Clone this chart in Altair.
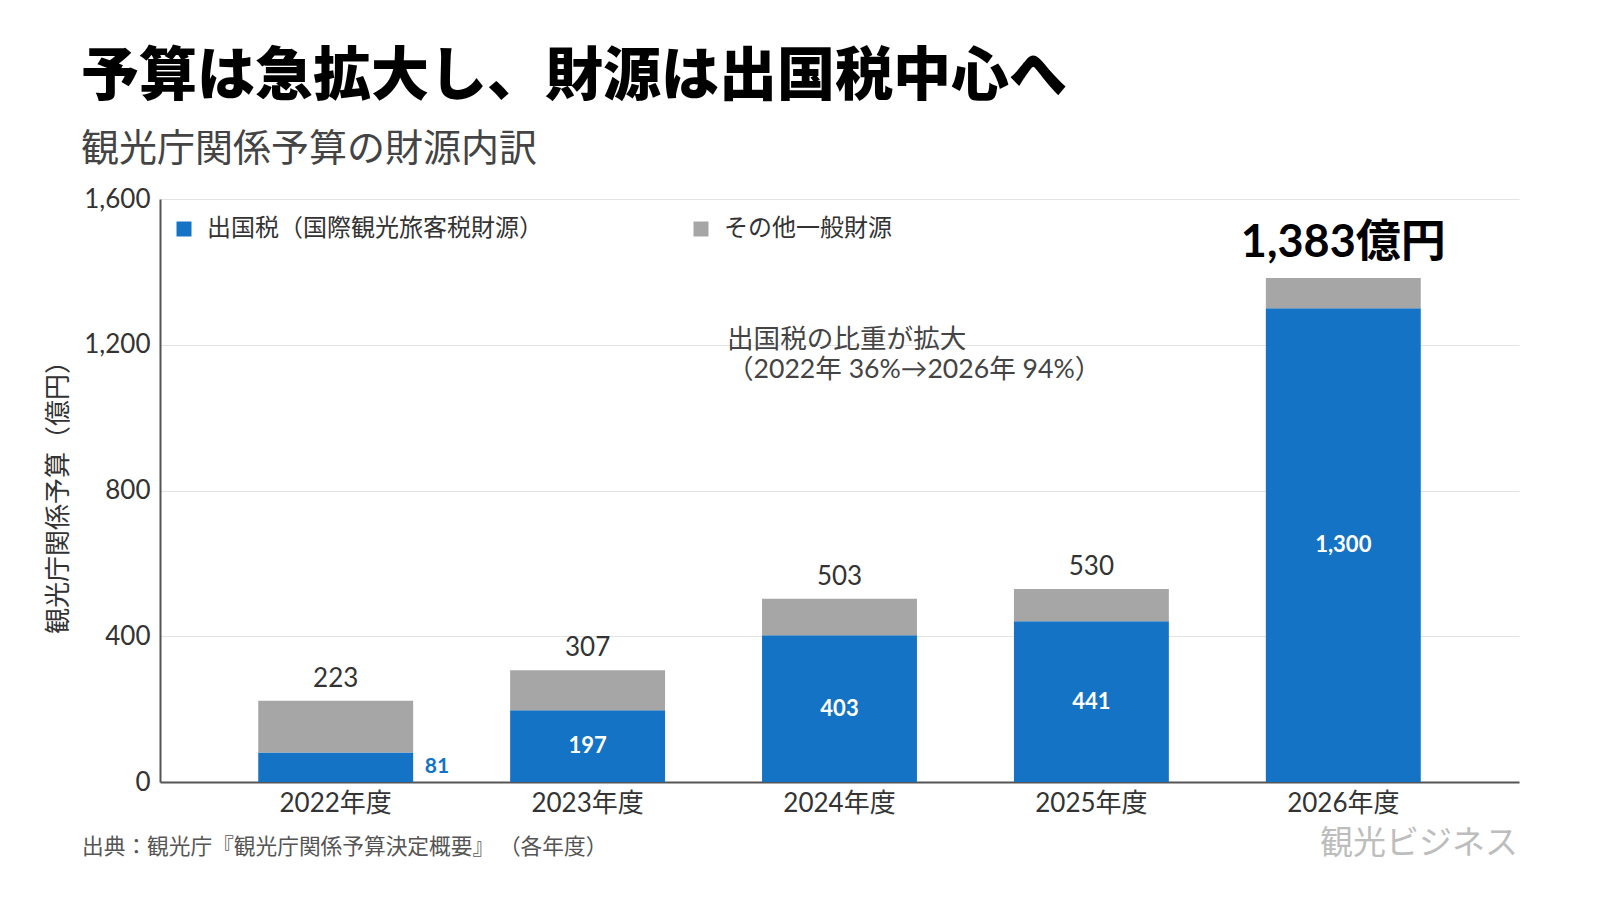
import altair as alt
import pandas as pd

# 観光庁関係予算（億円）
years = ["2022年度", "2023年度", "2024年度", "2025年度", "2026年度"]
tax = [81, 197, 403, 441, 1300]        # 出国税（国際観光旅客税財源）
other = [142, 110, 100, 89, 83]        # その他一般財源
totals = [223, 307, 503, 530, 1383]
series = ["出国税（国際観光旅客税財源）", "その他一般財源"]
colors = ["#1473C4", "#A6A6A6"]
y_ticks = [0, 400, 800, 1200, 1600]

FONT = "Lato, 'Noto Sans CJK JP', sans-serif"
JP = "'Noto Sans CJK JP', sans-serif"

rows = []
for i, yr in enumerate(years):
    rows.append({"year": yr, "series": series[0], "value": tax[i], "order": 0})
    rows.append({"year": yr, "series": series[1], "value": other[i], "order": 1})
long_df = pd.DataFrame(rows)

wide = pd.DataFrame({"year": years, "tax": tax, "total": totals})
wide["half"] = wide["tax"] / 2
wide["idx"] = range(len(years))
last = len(years) - 1
wide["total_label"] = [f"{t:,}" + ("億円" if i == last else "") for i, t in enumerate(totals)]
wide["tax_label"] = [f"{t:,}" for t in tax]

x_enc = alt.X(
    "year:N",
    sort=years,
    scale=alt.Scale(paddingInner=0.385, paddingOuter=0.39),
    axis=alt.Axis(
        title=None, labelAngle=0, labelFontSize=26, labelColor="#333",
        labelFont=FONT, labelPadding=8, ticks=False, tickSize=0,
        domainColor="#555", domainWidth=2, grid=False,
    ),
)

bars = alt.Chart(long_df).mark_bar().encode(
    x=x_enc,
    y=alt.Y(
        "value:Q",
        stack="zero",
        scale=alt.Scale(domain=[0, 1600], nice=False),
        axis=alt.Axis(
            values=y_ticks, format=",.0f", title="観光庁関係予算（億円）",
            titleFontSize=26, titleColor="#333", titleFontWeight="normal",
            titleFont=JP, titlePadding=12,
            labelFontSize=26, labelColor="#333", labelFont=FONT, labelPadding=10,
            ticks=False, tickSize=0, gridColor="#E3E3E3", gridWidth=1,
            domainColor="#555", domainWidth=2,
        ),
    ),
    color=alt.Color(
        "series:N",
        scale=alt.Scale(domain=series, range=colors),
        legend=alt.Legend(
            orient="none", legendX=12, legendY=18, direction="horizontal",
            title=None, symbolType="square", symbolSize=225, symbolStrokeWidth=0,
            labelFontSize=24, labelColor="#333", labelFont=JP, labelLimit=500,
            columnPadding=146, labelOffset=11, padding=0,
        ),
    ),
    order=alt.Order("order:Q"),
)

base = alt.Chart(wide).encode(x=alt.X("year:N", sort=years))

total_small = base.transform_filter(alt.datum.idx < last).mark_text(
    dy=-22, fontSize=26, color="#333", font=FONT, baseline="middle"
).encode(y=alt.Y("total:Q"), text="total_label:N")

total_big = base.transform_filter(alt.datum.idx == last).mark_text(
    dy=-35, fontSize=45, fontWeight="bold", color="#000", font=FONT, baseline="middle"
).encode(y=alt.Y("total:Q"), text="total_label:N")

tax_inside = base.transform_filter(alt.datum.tax >= 100).mark_text(
    fontSize=22, fontWeight="bold", color="white", font=FONT, baseline="middle"
).encode(y=alt.Y("half:Q"), text="tax_label:N")

tax_outside = base.transform_filter(alt.datum.tax < 100).mark_text(
    dx=89, align="left", fontSize=21, fontWeight="bold", color=colors[0],
    font=FONT, baseline="middle"
).encode(y=alt.Y("half:Q"), text="tax_label:N")

note = alt.Chart(pd.DataFrame({"t": [["出国税の比重が拡大", "（2022年 36%→2026年 94%）"]]})).mark_text(
    x=567, y=141, align="left", baseline="middle", fontSize=26.6, lineHeight=30,
    color="#444", font=FONT,
).encode(text="t:N")

title = alt.Chart(pd.DataFrame({"t": ["予算は急拡大し、財源は出国税中心へ"]})).mark_text(
    x=-79, y=-121, align="left", baseline="middle", fontSize=58, fontWeight=900,
    color="#000", font=JP,
).encode(text="t:N")

subtitle = alt.Chart(pd.DataFrame({"t": ["観光庁関係予算の財源内訳"]})).mark_text(
    x=-79, y=-49, align="left", baseline="middle", fontSize=38,
    color="#444", font=JP,
).encode(text="t:N")

source = alt.Chart(pd.DataFrame({"t": ["出典：観光庁『観光庁関係予算決定概要』 （各年度）"]})).mark_text(
    x=-78, y=65 + 583, align="left", baseline="middle", fontSize=21.7,
    color="#555", font=JP,
).encode(text="t:N")

brand = alt.Chart(pd.DataFrame({"t": ["観光ビジネス"]})).mark_text(
    x=1358, y=62 + 583, align="right", baseline="middle", fontSize=33,
    color="#BDBDBD", font=JP,
).encode(text="t:N")

chart = alt.layer(
    bars, total_small, total_big, tax_inside, tax_outside,
    note, title, subtitle, source, brand,
).properties(
    width=1359, height=583,
    autosize=alt.AutoSizeParams(type="none"),
    padding={"left": 160, "top": 199, "right": 81, "bottom": 118},
    background="white",
).configure_view(stroke=None)

chart.save("out.html", embed_options={"renderer": "svg", "actions": False})
